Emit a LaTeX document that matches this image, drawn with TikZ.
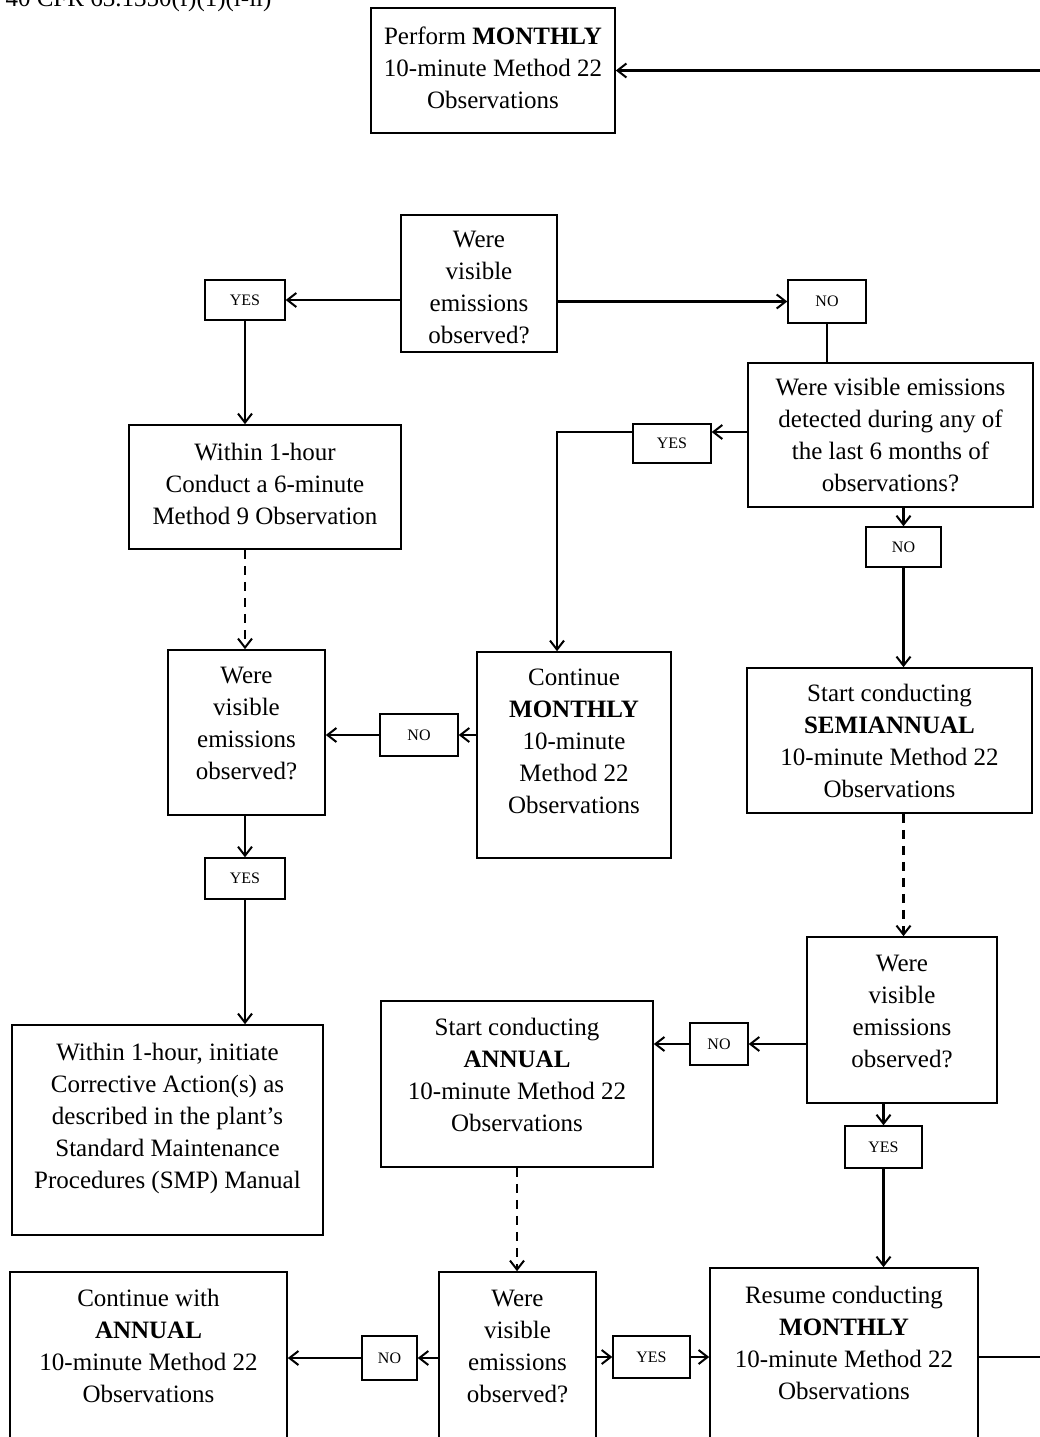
\documentclass[tikz,border=0pt]{standalone}
\usepackage{fontspec}
\setmainfont{Liberation Serif}
\usetikzlibrary{arrows.meta}
\begin{document}
\begin{tikzpicture}[x=1pt,y=-1pt,
  box/.style={draw,line width=1.6pt,inner sep=0pt},
  txt/.style={inner sep=0pt,align=center,font=\fontsize{25}{32}\selectfont},
  lbl/.style={draw,line width=1.4pt,inner sep=0pt,font=\fontsize{16}{18}\selectfont},
  arr/.style={line width=2.4pt,-{Straight Barb[length=9pt,width=14pt,line width=2pt]}},
  plainline/.style={line width=2.2pt},
  dsh/.style={arr,dash pattern=on 9pt off 7pt}]
\useasboundingbox (0,0) rectangle (1040,1437);
\node[anchor=base west,font=\fontsize{25}{32}\selectfont] (cfr) at (2,7) {40 CFR 63.1350(f)(1)(i-ii)};

\node[box,minimum width=244pt,minimum height=125pt] (top) at (493,70.5) {};
\node[txt] (topt) at ([yshift=3pt]top.center) {Perform \textbf{MONTHLY}\\10-minute Method 22\\Observations};
\node[box,minimum width=156pt,minimum height=137pt] (q1) at (479,283.5) {};
\node[txt] (q1t) at ([yshift=-4pt]q1.center) {Were\\visible\\emissions\\observed?};
\node[lbl,minimum width=80pt,minimum height=40pt] (yes1) at (245,300) {YES};
\node[lbl,minimum width=78pt,minimum height=43pt] (no1) at (827,301.5) {NO};
\node[box,minimum width=285pt,minimum height=144pt] (q2) at (890.5,435) {};
\node[txt] (q2t) at (q2.center) {Were visible emissions\\detected during any of\\the last 6 months of\\observations?};
\node[lbl,minimum width=78pt,minimum height=39pt] (yes2) at (672,443.5) {YES};
\node[lbl,minimum width=75pt,minimum height=40pt] (no2) at (903.5,547) {NO};
\node[box,minimum width=272pt,minimum height=124pt] (within) at (265,487) {};
\node[txt] (withint) at ([yshift=3pt]within.center) {Within 1-hour\\Conduct a 6-minute\\Method 9 Observation};
\node[box,minimum width=157pt,minimum height=165pt] (q3) at (246.5,732.5) {};
\node[txt] (q3t) at ([yshift=9pt]q3.center) {Were\\visible\\emissions\\observed?};
\node[lbl,minimum width=78pt,minimum height=42pt] (no3) at (419,735) {NO};
\node[box,minimum width=194pt,minimum height=206pt] (cont) at (574,755) {};
\node[txt] (contt) at ([yshift=14pt]cont.center) {Continue\\\textbf{MONTHLY}\\10-minute\\Method 22\\Observations};
\node[lbl,minimum width=80pt,minimum height=41pt] (yes3) at (245,878.5) {YES};
\node[box,minimum width=311pt,minimum height=210pt] (corr) at (167.5,1130) {};
\node[txt] (corrt) at ([yshift=12pt]corr.center) {Within 1-hour, initiate\\Corrective Action(s) as\\described in the plant's\\Standard Maintenance\\Procedures (SMP) Manual};
\node[box,minimum width=285pt,minimum height=145pt] (semi) at (889.5,740.5) {};
\node[txt] (semit) at (semi.center) {Start conducting\\\textbf{SEMIANNUAL}\\10-minute Method 22\\Observations};
\node[box,minimum width=190pt,minimum height=166pt] (q4) at (902,1020) {};
\node[txt] (q4t) at ([yshift=9pt]q4.center) {Were\\visible\\emissions\\observed?};
\node[lbl,minimum width=58pt,minimum height=42pt] (no4) at (719,1044) {NO};
\node[box,minimum width=272pt,minimum height=166pt] (ann) at (517,1084) {};
\node[txt] (annt) at ([yshift=9pt]ann.center) {Start conducting\\\textbf{ANNUAL}\\10-minute Method 22\\Observations};
\node[lbl,minimum width=77pt,minimum height=42pt] (yes4) at (883.5,1147) {YES};
\node[box,minimum width=268pt,minimum height=177pt] (res) at (844,1356.5) {};
\node[txt] (rest) at ([yshift=14pt]res.center) {Resume conducting\\\textbf{MONTHLY}\\10-minute Method 22\\Observations};
\node[box,minimum width=157pt,minimum height=170pt] (q5) at (517.5,1357) {};
\node[txt] (q5t) at ([yshift=11pt]q5.center) {Were\\visible\\emissions\\observed?};
\node[lbl,minimum width=55pt,minimum height=44pt] (no5) at (389.5,1358) {NO};
\node[lbl,minimum width=77pt,minimum height=42pt] (yes5) at (651.5,1357) {YES};
\node[box,minimum width=277pt,minimum height=170pt] (contann) at (148.5,1357) {};
\node[txt] (contannt) at ([yshift=11pt]contann.center) {Continue with\\\textbf{ANNUAL}\\10-minute Method 22\\Observations};

\coordinate (ya) at (0,432);
\coordinate (xa) at (557,0);

\draw[arr] (q1.west |- yes1.east) -- (yes1.east);
\draw[arr] (q1.east |- no1.west) -- (no1.west);
\draw[plainline] (no1.south) -- (no1.south |- q2.north);
\draw[arr] (q2.west |- ya) -- (yes2.east |- ya);
\draw[arr] (yes2.west |- ya) -- (xa |- ya) -- (xa |- cont.north);
\draw[arr] (no2.north |- q2.south) -- (no2.north);
\draw[arr] (no2.south) -- (no2.south |- semi.north);
\draw[arr] (yes1.south) -- (yes1.south |- within.north);
\draw[dsh] (yes1.south |- within.south) -- (yes1.south |- q3.north);
\draw[arr] (cont.west |- no3.east) -- (no3.east);
\draw[arr] (no3.west) -- (no3.west -| q3.east);
\draw[arr] (yes3.north |- q3.south) -- (yes3.north);
\draw[arr] (yes3.south) -- (yes3.south |- corr.north);
\draw[dsh] (no2.south |- semi.south) -- (no2.south |- q4.north);
\draw[arr] (q4.west |- no4.east) -- (no4.east);
\draw[arr] (no4.west) -- (no4.west -| ann.east);
\draw[arr] (yes4.north |- q4.south) -- (yes4.north);
\draw[arr] (yes4.south) -- (yes4.south |- res.north);
\draw[dsh] (ann.south) -- (ann.south |- q5.north);
\draw[arr] (q5.west |- no5.east) -- (no5.east);
\draw[arr] (no5.west) -- (no5.west -| contann.east);
\draw[arr] (q5.east |- yes5.west) -- (yes5.west);
\draw[arr] (yes5.east) -- (yes5.east -| res.west);
\draw[arr] (res.east |- yes5.east) -- ++(72,0) |- (top.east);
\end{tikzpicture}
\end{document}
